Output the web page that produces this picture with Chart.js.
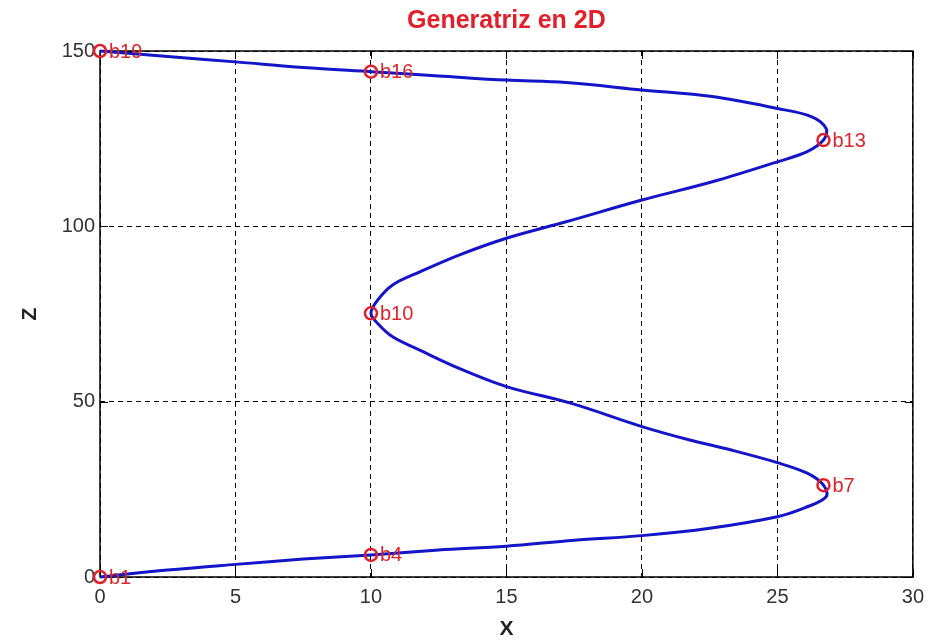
<!DOCTYPE html>
<html>
<head>
<meta charset="utf-8">
<title>Generatriz en 2D</title>
<script src="https://cdn.jsdelivr.net/npm/chart.js@4.4.0/dist/chart.umd.min.js"></script>
<style>
  html,body{margin:0;padding:0;background:#fff;}
  #caja{width:932px;height:642px;}
</style>
</head>
<body>
<div id="caja"><canvas id="graf"></canvas></div>
<script>
// curva generatriz (x, z)
const curvaX = [0,2.5,5,7.5,10, 12.5,15,17.5,20,22.5,25,26,26.8,26.7,
  26.1,25,23.3,21.8,20,17.4,15,13.25,11.8,10.8,10.25,10,
  10.25,10.8,11.8,13.25,15,17.2,20,22.6,25,26.1,26.7,
  26.8,26.25,25,22.6,20,17.2,15,12.5,10,
  7.5,5,2.5,0];
const curvaZ = [0,2.0,3.6,5.1,6.3, 7.7,8.8,10.5,11.8,13.9,17.2,19.7,22.9,26.2,
  29.6,32.6,36.2,39,42.9,49.5,54.3,59.5,64.7,68.5,72.3,75.2,
  79,83.3,87,91.8,96.6,101.3,107.5,112.7,118.4,121.3,124.6,
  127.9,131.3,133.6,137,138.9,141,141.7,142.9,144.1,
  145.3,146.9,148.4,150];

// puntos de control marcados
const puntosNombre = ["b1","b4","b7","b10","b13","b16","b19"];
const puntosX = [0,10,26.7,10,26.7,10,0];
const puntosZ = [0,6.3,26.2,75.2,124.6,144.1,150];

const ticksX = [0,5,10,15,20,25,30];
const ticksZ = [0,50,100,150];

const fuente = "'Liberation Sans', Arial, sans-serif";

// etiquetas b1..b19 al lado de cada marcador + marco con ticks hacia dentro
const extras = {
  id:"extras",
  afterDatasetsDraw(chart){
    const ctx = chart.ctx;
    const meta = chart.getDatasetMeta(1);
    ctx.save();
    ctx.font = "20px "+fuente;
    ctx.fillStyle = "#d8262b";
    ctx.textAlign = "left";
    ctx.textBaseline = "middle";
    meta.data.forEach((p,i)=>{
      ctx.fillText(puntosNombre[i], p.x+9, p.y+1);
    });
    ctx.restore();
  },
  beforeDatasetsDraw(chart){
    const ctx = chart.ctx;
    const a = chart.chartArea;
    const sx = chart.scales.x, sy = chart.scales.y;
    ctx.save();
    ctx.strokeStyle = "#000";
    ctx.lineWidth = 1.5;
    ctx.setLineDash([]);
    ctx.strokeRect(a.left, a.top, a.right-a.left, a.bottom-a.top);
    ctx.lineWidth = 1;
    ctx.beginPath();
    ticksX.forEach(v=>{
      const px = Math.round(sx.getPixelForValue(v))+0.5;
      ctx.moveTo(px,a.bottom); ctx.lineTo(px,a.bottom-8);
      ctx.moveTo(px,a.top); ctx.lineTo(px,a.top+8);
    });
    ticksZ.forEach(v=>{
      const py = Math.round(sy.getPixelForValue(v))+0.5;
      ctx.moveTo(a.left,py); ctx.lineTo(a.left+8,py);
      ctx.moveTo(a.right,py); ctx.lineTo(a.right-8,py);
    });
    ctx.stroke();
    ctx.restore();
  }
};

new Chart(document.getElementById("graf"),{
  type:"scatter",
  data:{
    datasets:[
      {
        label:"generatriz",
        data:curvaX.map((x,i)=>({x:x,y:curvaZ[i]})),
        showLine:true,
        borderColor:"#1414c8",
        borderWidth:3,
        pointRadius:0,
        tension:0.35,
        fill:false,
        clip:false,
        order:2
      },
      {
        label:"puntos",
        data:puntosX.map((x,i)=>({x:x,y:puntosZ[i]})),
        showLine:false,
        pointStyle:"circle",
        pointRadius:6,
        pointBorderWidth:2.5,
        pointBorderColor:"#e0202a",
        pointBackgroundColor:"rgba(0,0,0,0)",
        clip:false,
        order:1
      }
    ]
  },
  options:{
    responsive:true,
    maintainAspectRatio:false,
    animation:false,
    layout:{padding:{left:0,right:17,top:0,bottom:0}},
    plugins:{
      legend:{display:false},
      tooltip:{enabled:false},
      title:{
        display:true,
        text:"Generatriz en 2D",
        color:"#e0202a",
        fullSize:false,
        font:{family:fuente,size:25,weight:"bold"},
        padding:{top:6,bottom:15}
      }
    },
    scales:{
      x:{
        type:"linear",
        min:0,max:30,
        afterBuildTicks:s=>{ s.ticks = ticksX.map(v=>({value:v})); },
        afterFit:s=>{ s.height = 65; },
        grid:{color:"#000",lineWidth:1,drawTicks:false},
        border:{display:false,dash:[5,4]},
        ticks:{color:"#333",padding:8,font:{family:fuente,size:20}},
        title:{display:true,text:"X",color:"#222",padding:{top:2,bottom:0},
          font:{family:fuente,size:21,weight:"bold"}}
      },
      y:{
        type:"linear",
        min:0,max:150,
        afterBuildTicks:s=>{ s.ticks = ticksZ.map(v=>({value:v})); },
        afterFit:s=>{ s.width = 100; },
        grid:{color:"#000",lineWidth:1,drawTicks:false},
        border:{display:false,dash:[5,4]},
        ticks:{color:"#333",padding:5,font:{family:fuente,size:20}},
        title:{display:true,text:"Z",color:"#222",padding:{top:18,bottom:0},
          font:{family:fuente,size:21,weight:"bold"}}
      }
    }
  },
  plugins:[extras]
});
</script>
</body>
</html>
